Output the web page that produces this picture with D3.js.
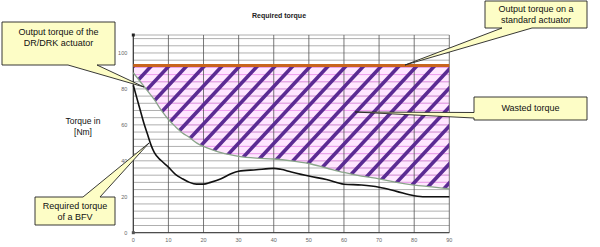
<!DOCTYPE html>
<html>
<head>
<meta charset="utf-8">
<script src="https://cdn.jsdelivr.net/npm/d3@7/dist/d3.min.js"></script>
<style>
  body { margin: 0; background: #fff; }
  text { font-family: "Liberation Sans", Arial, sans-serif; }
</style>
</head>
<body>
<div id="chart"></div>
<script>
// data
var angles = [0, 1, 2, 3, 4, 5, 6, 8, 10, 12, 14, 16, 18, 20, 22, 25, 28, 30, 35, 40, 42, 45, 50, 55, 60, 65, 70, 75, 80, 83, 90];
var bfvTorque = [82, 75, 68, 61, 55, 49, 44.5, 40, 36.5, 32.5, 30, 28, 27, 27, 28, 30, 33, 34.2, 35, 35.8, 35.3, 33.8, 31.5, 29.6, 27, 26.5, 25.3, 23, 20.6, 20, 20];
var drAngles = [0, 2, 4, 6, 8, 10, 12, 14, 16, 18, 20, 22, 25, 30, 35, 40, 45, 50, 55, 60, 65, 70, 75, 80, 85, 90];
var drTorque = [89, 84, 79, 74, 68, 63, 59, 55.5, 53, 50, 48, 46.5, 44.5, 42.5, 41.5, 41, 40, 38.5, 36, 33.5, 31.5, 30, 28, 26.5, 25.5, 24.4];
var standardTorque = 93;
var xTicks = [0, 10, 20, 30, 40, 50, 60, 70, 80, 90];
var yTicks = [0, 20, 40, 60, 80, 100];

var width = 600, height = 247,
    margin = {top: 35, right: 150.7, bottom: 14.3, left: 133.3};
var w = width - margin.left - margin.right,
    h = height - margin.top - margin.bottom;

var svg = d3.select("#chart").append("svg")
  .attr("width", width)
  .attr("height", height);

var g = svg.append("g")
  .attr("transform", `translate(${margin.left},${margin.top})`);

var x = d3.scaleLinear().domain([0, 90]).range([0, w]);
var y = d3.scaleLinear().domain([0, 110]).range([h, 0]);

var drPts = drAngles.map((a, i) => [a, drTorque[i]]);
var bfvPts = angles.map((a, i) => [a, bfvTorque[i]]);

// wasted torque region between DR curve and standard actuator
var area = d3.area()
  .x(d => x(d[0]))
  .y0(d => y(d[1]))
  .y1(y(standardTorque))
  .curve(d3.curveMonotoneX);

var defs = svg.append("defs");
defs.append("clipPath").attr("id", "wasted")
  .append("path").attr("d", area(drPts));

g.append("path")
  .attr("d", area(drPts))
  .attr("fill", "#ffe6ff");

// horizontal grid
var hLines = d3.range(0, 110, 4).concat([110]);
g.append("g").selectAll("line")
  .data(hLines).enter().append("line")
  .attr("x1", 0).attr("x2", w)
  .attr("y1", d => y(d)).attr("y2", d => y(d))
  .attr("stroke", "#9a9a9a").attr("stroke-width", 0.8);

g.append("g").attr("clip-path", "url(#wasted)")
  .selectAll("line")
  .data(hLines).enter().append("line")
  .attr("x1", 0).attr("x2", w)
  .attr("y1", d => y(d)).attr("y2", d => y(d))
  .attr("stroke", "#f2a2f2").attr("stroke-width", 1);

// vertical grid
g.append("g").selectAll("line")
  .data(xTicks).enter().append("line")
  .attr("x1", d => x(d)).attr("x2", d => x(d))
  .attr("y1", 0).attr("y2", h)
  .attr("stroke", "#555").attr("stroke-width", 0.8);

// hatch stripes
var sp = 17.7, slope = Math.tan(47 * Math.PI / 180);
var hatch = g.append("g").attr("clip-path", "url(#wasted)");
d3.range(-20, 30).forEach(function(k) {
  var x1 = 151.7 - margin.left + k * sp, y1 = y(standardTorque);
  hatch.append("line")
    .attr("x1", x1).attr("y1", y1)
    .attr("x2", x1 - (h - y1) / slope).attr("y2", h)
    .attr("stroke", "#5b2b93").attr("stroke-width", 3.6);
});

// axes lines
g.append("line").attr("x1", 0).attr("x2", 0).attr("y1", 0).attr("y2", h)
  .attr("stroke", "#333").attr("stroke-width", 1);
g.append("line").attr("x1", 0).attr("x2", w).attr("y1", h).attr("y2", h)
  .attr("stroke", "#333").attr("stroke-width", 1);
g.append("rect").attr("x", -1.5).attr("y", -1.5).attr("width", 3).attr("height", 3).attr("fill", "#222");
g.append("rect").attr("x", -1.5).attr("y", h - 1.5).attr("width", 3).attr("height", 3).attr("fill", "#555");

// curves
var line = d3.line().x(d => x(d[0])).y(d => y(d[1])).curve(d3.curveMonotoneX);

g.append("path").attr("d", line(drPts))
  .attr("fill", "none").attr("stroke", "#8aa58a").attr("stroke-width", 1.3);

g.append("path").attr("d", line(bfvPts))
  .attr("fill", "none").attr("stroke", "#111").attr("stroke-width", 1.6);

g.append("line")
  .attr("x1", 0).attr("x2", w)
  .attr("y1", y(standardTorque)).attr("y2", y(standardTorque))
  .attr("stroke", "#c8641e").attr("stroke-width", 3);

// tick labels
g.append("g").selectAll("text")
  .data(yTicks).enter().append("text")
  .attr("x", -6).attr("y", d => y(d) + 2)
  .attr("text-anchor", "end")
  .attr("font-size", 5.5).attr("fill", "#666")
  .text(d => d);

g.append("g").selectAll("text")
  .data(xTicks).enter().append("text")
  .attr("x", d => x(d)).attr("y", h + 9)
  .attr("text-anchor", "middle")
  .attr("font-size", 5.5).attr("fill", "#666")
  .text(d => d);

// title and axis label
svg.append("text").attr("x", 279).attr("y", 18)
  .attr("text-anchor", "middle").attr("font-size", 7).attr("font-weight", "bold")
  .attr("fill", "#222").text("Required torque");

svg.append("text").attr("x", 83).attr("y", 124)
  .attr("text-anchor", "middle").attr("font-size", 8.5).attr("fill", "#111")
  .text("Torque in");
svg.append("text").attr("x", 83).attr("y", 135)
  .attr("text-anchor", "middle").attr("font-size", 8.5).attr("fill", "#111")
  .text("[Nm]");

// callouts
function callout(r, side, a, b, tip) {
  var x0 = r.x, y0 = r.y, x1 = r.x + r.w, y1 = r.y + r.h;
  var p = d3.path();
  p.moveTo(x0, y0);
  if (side == "top") { p.lineTo(a, y0); p.lineTo(tip[0], tip[1]); p.lineTo(b, y0); }
  p.lineTo(x1, y0);
  p.lineTo(x1, y1);
  if (side == "bottom") { p.lineTo(b, y1); p.lineTo(tip[0], tip[1]); p.lineTo(a, y1); }
  p.lineTo(x0, y1);
  if (side == "left") { p.lineTo(x0, b); p.lineTo(tip[0], tip[1]); p.lineTo(x0, a); }
  p.closePath();
  svg.append("path").attr("d", p.toString())
    .attr("fill", "#fdfdc6").attr("stroke", "#222").attr("stroke-width", 0.9);
  r.lines.forEach(function(t, i) {
    svg.append("text")
      .attr("x", x0 + r.w / 2).attr("y", r.ty + i * 11)
      .attr("text-anchor", "middle").attr("font-size", 9).attr("fill", "#111")
      .text(t);
  });
}

callout({x: 2, y: 22, w: 113, h: 43, ty: 35, lines: ["Output torque of the", "DR/DRK actuator"]},
  "bottom", 68, 97, [144, 87]);
callout({x: 485, y: 1, w: 102, h: 27, ty: 12, lines: ["Output torque on a", "standard actuator"]},
  "bottom", 502, 532, [405, 65]);
callout({x: 474, y: 97, w: 113, h: 23, ty: 111, lines: ["Wasted torque"]},
  "left", 112.5, 118, [355, 112]);
callout({x: 35, y: 197, w: 80, h: 28, ty: 209, lines: ["Required torque", "of a BFV"]},
  "top", 83, 100, [149, 143]);
</script>
</body>
</html>
